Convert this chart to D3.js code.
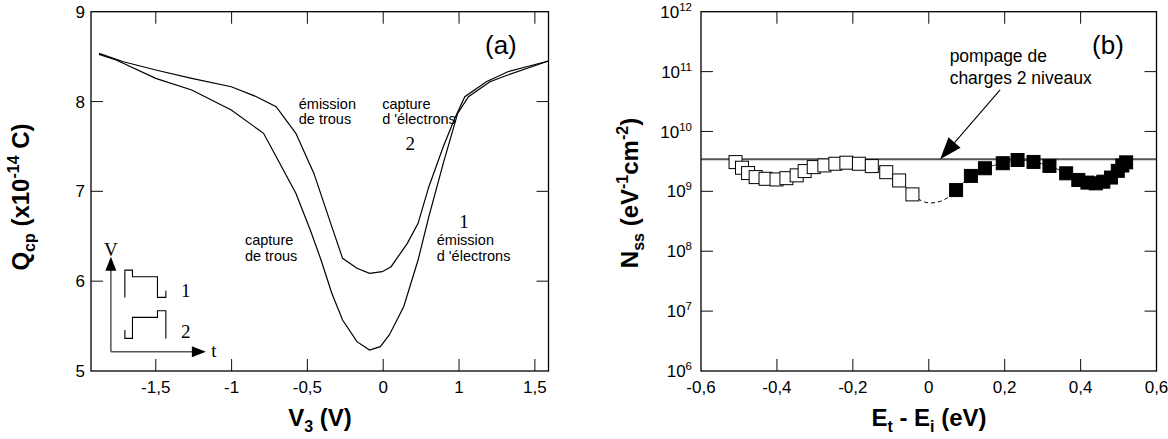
<!DOCTYPE html>
<html><head><meta charset="utf-8">
<script src="https://cdn.jsdelivr.net/npm/d3@7"></script>
<style>
body{margin:0;background:#fff}
svg{display:block}
text{font-family:"Liberation Sans",Arial,Helvetica,sans-serif;fill:#000}
.serif{font-family:"Liberation Serif","Times New Roman",serif}
</style>
</head><body>
<svg id="c" width="1168" height="439"></svg>
<script>
// ---------- Panel (a) data ----------
const curve2V = [-1.874,-1.713,-1.500,-1.263,-1.002,-0.836,-0.706,-0.576,-0.457,-0.339,-0.268,-0.173,-0.090,-0.007,0.052,0.159,0.230,0.301,0.396,0.467,0.538,0.680,0.822,1.090];
const curve2Q = [8.536,8.443,8.351,8.258,8.165,8.054,7.942,7.646,7.200,6.607,6.254,6.143,6.087,6.106,6.161,6.421,6.644,7.052,7.497,7.794,8.054,8.221,8.332,8.451];
const curve1V = [-1.874,-1.761,-1.500,-1.263,-1.002,-0.789,-0.694,-0.576,-0.481,-0.410,-0.339,-0.268,-0.173,-0.090,-0.019,0.040,0.135,0.230,0.301,0.396,0.491,0.562,0.704,0.822,1.090];
const curve1Q = [8.525,8.462,8.258,8.128,7.905,7.646,7.349,6.978,6.570,6.236,5.865,5.568,5.327,5.234,5.271,5.401,5.716,6.236,6.718,7.312,7.868,8.054,8.221,8.295,8.451];
const aXTicks = [-1.5,-1,-0.5,0,0.5,1];
const aXLabels = ["-1,5","-1","-0,5","0","1","1,5"];
const aYTicks = [5,6,7,8,9];

// ---------- Panel (b) data ----------
const openE = [-0.509,-0.492,-0.476,-0.456,-0.430,-0.401,-0.375,-0.348,-0.327,-0.303,-0.275,-0.246,-0.217,-0.184,-0.150,-0.112,-0.078,-0.043];
const openN = [3.08e9,2.48e9,2.02e9,1.73e9,1.62e9,1.58e9,1.66e9,1.85e9,2.18e9,2.54e9,2.71e9,2.89e9,3.01e9,2.89e9,2.64e9,2.09e9,1.52e9,8.9e8];
const filledE = [0.072,0.111,0.148,0.195,0.234,0.276,0.318,0.362,0.394,0.418,0.440,0.460,0.480,0.498,0.510,0.520];
const filledN = [1.05e9,1.81e9,2.43e9,2.95e9,3.34e9,3.10e9,2.66e9,2.0e9,1.55e9,1.40e9,1.36e9,1.45e9,1.70e9,2.2e9,2.7e9,3.05e9];
const gapE = [-0.043,-0.02,0.005,0.03,0.055,0.072];
const gapN = [8.9e8,7.0e8,6.4e8,6.8e8,8.3e8,1.05e9];
const pumpLevel = 3.45e9;
const bXTicks = [-0.6,-0.4,-0.2,0,0.2,0.4,0.6];
const bXLabels = ["-0,6","-0,4","-0,2","0","0,2","0,4","0,6"];
const bYTicks = [1e6,1e7,1e8,1e9,1e10,1e11,1e12];

const svg = d3.select("#c");

// ---------- scales ----------
const xA = d3.scaleLinear().domain([-1.927, 1.090]).range([91, 548.5]);
const yA = d3.scaleLinear().domain([5, 9]).range([371, 11.7]);
const xB = d3.scaleLinear().domain([-0.6, 0.6]).range([701, 1156.5]);
const yB = d3.scaleLog().domain([1e6, 1e12]).range([371, 11.7]);

function frame(g, x, y) {
  const [x0, x1] = x.range(), [y0, y1] = y.range();
  g.append("rect").attr("x", x0).attr("y", y1).attr("width", x1 - x0).attr("height", y0 - y1)
    .attr("fill", "none").attr("stroke", "#000").attr("stroke-width", 1.3);
}
function ticks(g, x, y, xt, yt, len) {
  const [x0, x1] = x.range(), [y0, y1] = y.range();
  const tg = g.append("g").attr("stroke", "#222").attr("stroke-width", 1.1);
  xt.forEach(v => {
    const px = x(v);
    if (px <= x0 + 1 || px >= x1 - 1) return;
    tg.append("line").attr("x1", px).attr("x2", px).attr("y1", y0).attr("y2", y0 - len);
    tg.append("line").attr("x1", px).attr("x2", px).attr("y1", y1).attr("y2", y1 + len);
  });
  yt.forEach(v => {
    const py = y(v);
    if (py >= y0 - 1 || py <= y1 + 1) return;
    tg.append("line").attr("x1", x0).attr("x2", x0 + len).attr("y1", py).attr("y2", py);
    tg.append("line").attr("x1", x1).attr("x2", x1 - len).attr("y1", py).attr("y2", py);
  });
}

// ================= Panel (a) =================
const gA = svg.append("g");
ticks(gA, xA, yA, aXTicks, aYTicks, 12);

const lineA = d3.line().x(d => xA(d[0])).y(d => yA(d[1]));
gA.append("path").datum(d3.zip(curve2V, curve2Q)).attr("d", lineA)
  .attr("fill", "none").attr("stroke", "#000").attr("stroke-width", 1.2);
gA.append("path").datum(d3.zip(curve1V, curve1Q)).attr("d", lineA)
  .attr("fill", "none").attr("stroke", "#000").attr("stroke-width", 1.2);
frame(gA, xA, yA);

aXTicks.forEach((v, i) => {
  gA.append("text").attr("x", xA(v)).attr("y", 393).attr("text-anchor", "middle")
    .attr("font-size", 17).text(aXLabels[i]);
});
aYTicks.forEach(v => {
  gA.append("text").attr("x", 85).attr("y", yA(v)).attr("dy", "0.36em").attr("text-anchor", "end")
    .attr("font-size", 17).text(v);
});

const xtA = gA.append("text").attr("x", 320).attr("y", 426).attr("text-anchor", "middle")
  .attr("font-size", 24).attr("font-weight", "bold");
xtA.append("tspan").text("V");
xtA.append("tspan").attr("font-size", 16).attr("dy", 6).text("3");
xtA.append("tspan").attr("dy", -6).text(" (V)");

const ytA = gA.append("text").attr("transform", "translate(29,197) rotate(-90)").attr("text-anchor", "middle")
  .attr("font-size", 24).attr("font-weight", "bold");
ytA.append("tspan").text("Q");
ytA.append("tspan").attr("font-size", 16).attr("dy", 6).text("cp");
ytA.append("tspan").attr("dy", -6).text(" (x10");
ytA.append("tspan").attr("font-size", 16).attr("dy", -10).text("-14");
ytA.append("tspan").attr("dy", 10).text(" C)");

const annA = [
  {t:"émission", x:-0.557, y:7.972}, {t:"de trous", x:-0.557, y:7.805},
  {t:"capture", x:-0.007, y:7.972}, {t:"d 'électrons", x:-0.007, y:7.805},
  {t:"capture", x:-0.912, y:6.458}, {t:"de trous", x:-0.912, y:6.284},
  {t:"émission", x:0.353, y:6.458}, {t:"d 'électrons", x:0.353, y:6.284}
];
annA.forEach(a => gA.append("text").attr("x", xA(a.x)).attr("y", yA(a.y)).attr("dy", "0.36em")
  .attr("font-size", 14.5).text(a.t));
gA.append("text").attr("class", "serif").attr("x", xA(0.178)).attr("y", yA(7.534)).attr("dy", "0.36em")
  .attr("text-anchor", "middle").attr("font-size", 19).text("2");
gA.append("text").attr("class", "serif").attr("x", xA(0.533)).attr("y", yA(6.673)).attr("dy", "0.36em")
  .attr("text-anchor", "middle").attr("font-size", 19).text("1");
gA.append("text").attr("x", xA(0.776)).attr("y", yA(8.529)).attr("text-anchor", "middle")
  .attr("font-size", 26).text("(a)");

const ins = gA.append("g").attr("transform", `translate(${xA(-1.796)},${yA(5.214)})`);
ins.append("path").attr("d", "M0,0V-83M0,0H86").attr("stroke", "#555").attr("stroke-width", 1.5).attr("fill", "none");
ins.append("path").attr("d", "M0,-95L-5.5,-81L5.5,-81Z").attr("fill", "#000");
ins.append("path").attr("d", "M95,0L81,-5.5L81,5.5Z").attr("fill", "#000");
ins.append("path").attr("d", "M14,-54.4V-81.7H21.6V-75H46.6V-54.4H55V-61")
  .attr("stroke", "#000").attr("stroke-width", 1.1).attr("fill", "none");
ins.append("path").attr("d", "M14,-21.7V-13.4H21.6V-34.4H46.6V-41H55V-13.4")
  .attr("stroke", "#000").attr("stroke-width", 1.1).attr("fill", "none");
ins.append("text").attr("class", "serif").attr("x", 0).attr("y", -103).attr("dy", "0.36em")
  .attr("text-anchor", "middle").attr("font-size", 19).text("V");
ins.append("text").attr("class", "serif").attr("x", 103).attr("y", 0).attr("dy", "0.3em")
  .attr("text-anchor", "middle").attr("font-size", 19).text("t");
ins.append("text").attr("class", "serif").attr("x", 75).attr("y", -61.7).attr("dy", "0.36em")
  .attr("text-anchor", "middle").attr("font-size", 19).text("1");
ins.append("text").attr("class", "serif").attr("x", 75).attr("y", -21).attr("dy", "0.36em")
  .attr("text-anchor", "middle").attr("font-size", 19).text("2");

// ================= Panel (b) =================
const gB = svg.append("g");
ticks(gB, xB, yB, bXTicks, bYTicks, 12);

gB.append("line").attr("x1", xB.range()[0]).attr("x2", xB.range()[1])
  .attr("y1", yB(pumpLevel)).attr("y2", yB(pumpLevel)).attr("stroke", "#555").attr("stroke-width", 2);

const lineB = d3.line().x(d => xB(d[0])).y(d => yB(d[1])).curve(d3.curveMonotoneX);
gB.append("path").datum(d3.zip(openE, openN)).attr("d", lineB).attr("fill", "none").attr("stroke", "#000").attr("stroke-width", 0.8);
gB.append("path").datum(d3.zip(filledE, filledN)).attr("d", lineB).attr("fill", "none").attr("stroke", "#000").attr("stroke-width", 0.8);
gB.append("path").datum(d3.zip(gapE, gapN)).attr("d", lineB).attr("fill", "none").attr("stroke", "#000")
  .attr("stroke-width", 1).attr("stroke-dasharray", "4,3");

const sq = 13;
gB.selectAll(".op").data(d3.zip(openE, openN)).join("rect").attr("class", "op")
  .attr("x", d => xB(d[0]) - sq / 2).attr("y", d => yB(d[1]) - sq / 2).attr("width", sq).attr("height", sq)
  .attr("fill", "#fff").attr("stroke", "#000").attr("stroke-width", 1);
gB.selectAll(".fl").data(d3.zip(filledE, filledN)).join("rect").attr("class", "fl")
  .attr("x", d => xB(d[0]) - sq / 2).attr("y", d => yB(d[1]) - sq / 2).attr("width", sq).attr("height", sq)
  .attr("fill", "#000").attr("stroke", "#000").attr("stroke-width", 1);

frame(gB, xB, yB);

const ax0 = xB(0.188), ay0 = yB(4.93e10), ax1 = xB(0.030), ay1 = yB(pumpLevel);
const ang = Math.atan2(ay1 - ay0, ax1 - ax0);
const hl = 22, hw = 8;
const bx = ax1 - hl * Math.cos(ang), by = ay1 - hl * Math.sin(ang);
gB.append("line").attr("x1", ax0).attr("y1", ay0).attr("x2", bx).attr("y2", by).attr("stroke", "#000").attr("stroke-width", 1.1);
gB.append("path").attr("d", `M${ax1},${ay1}L${bx + hw * Math.sin(ang)},${by - hw * Math.cos(ang)}L${bx - hw * Math.sin(ang)},${by + hw * Math.cos(ang)}Z`).attr("fill", "#000");

gB.append("text").attr("x", xB(0.055)).attr("y", yB(Math.pow(10, 11.165))).attr("font-size", 17.5).text("pompage de");
gB.append("text").attr("x", xB(0.055)).attr("y", yB(Math.pow(10, 10.785))).attr("font-size", 17.5).text("charges 2 niveaux");
gB.append("text").attr("x", xB(0.472)).attr("y", yB(Math.pow(10, 11.294))).attr("text-anchor", "middle").attr("font-size", 26).text("(b)");

bXTicks.forEach((v, i) => {
  gB.append("text").attr("x", xB(v)).attr("y", 393).attr("text-anchor", "middle")
    .attr("font-size", 17).text(bXLabels[i]);
});
bYTicks.forEach(v => {
  const e = Math.round(Math.log10(v));
  const t = gB.append("text").attr("x", 692).attr("y", yB(v)).attr("dy", "0.36em").attr("text-anchor", "end").attr("font-size", 17);
  t.append("tspan").text("10");
  t.append("tspan").attr("font-size", 11.5).attr("dy", -7).text(e);
});

const xtB = gB.append("text").attr("x", 929).attr("y", 426).attr("text-anchor", "middle")
  .attr("font-size", 24).attr("font-weight", "bold");
xtB.append("tspan").text("E");
xtB.append("tspan").attr("font-size", 16).attr("dy", 6).text("t");
xtB.append("tspan").attr("dy", -6).text(" - E");
xtB.append("tspan").attr("font-size", 16).attr("dy", 6).text("i");
xtB.append("tspan").attr("dy", -6).text(" (eV)");

const ytB = gB.append("text").attr("transform", "translate(638,193) rotate(-90)").attr("text-anchor", "middle")
  .attr("font-size", 24).attr("font-weight", "bold");
ytB.append("tspan").text("N");
ytB.append("tspan").attr("font-size", 16).attr("dy", 6).text("ss");
ytB.append("tspan").attr("dy", -6).text(" (eV");
ytB.append("tspan").attr("font-size", 16).attr("dy", -10).text("-1");
ytB.append("tspan").attr("dy", 10).text("cm");
ytB.append("tspan").attr("font-size", 16).attr("dy", -10).text("-2");
ytB.append("tspan").attr("dy", 10).text(")");
</script>
</body></html>
